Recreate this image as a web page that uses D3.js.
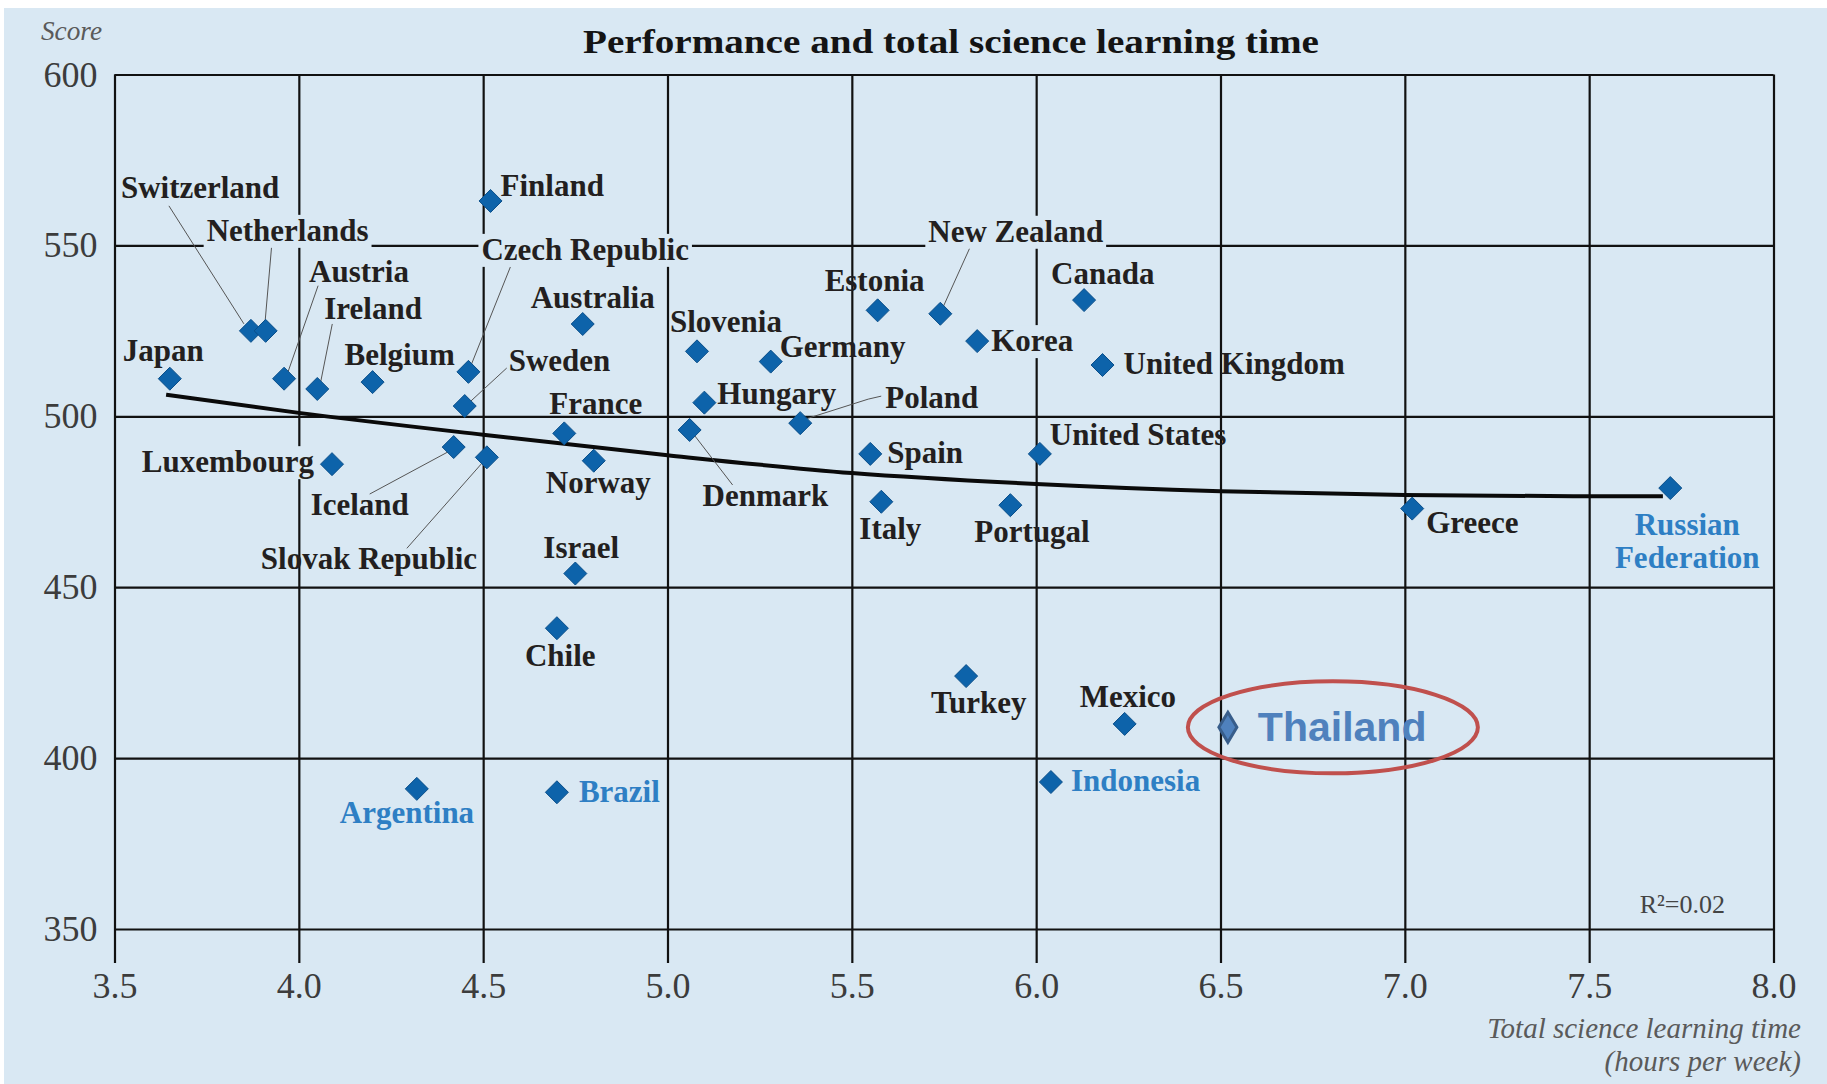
<!DOCTYPE html>
<html>
<head>
<meta charset="utf-8">
<script src="https://cdn.jsdelivr.net/npm/d3@7"></script>
<style>
  html, body { margin: 0; background: #fff; }
  svg { display: block; font-family: "Liberation Serif", serif; }
</style>
</head>
<body>
<svg id="chart" width="1827" height="1084"></svg>
<script>
// values
const countries = ["Japan", "Switzerland", "Netherlands", "Austria", "Ireland", "Belgium", "Luxembourg",
  "Czech Republic", "Sweden", "Iceland", "Slovak Republic", "Finland", "Australia", "France", "Norway",
  "Israel", "Chile", "Argentina", "Brazil", "Slovenia", "Hungary", "Denmark", "Germany", "Poland",
  "Estonia", "New Zealand", "Korea", "Spain", "Italy", "Turkey", "Portugal", "United States",
  "Indonesia", "Canada", "United Kingdom", "Mexico", "Thailand", "Greece", "Russian Federation"];
const hours = [3.65, 3.87, 3.91, 3.96, 4.05, 4.20, 4.09,
  4.46, 4.45, 4.42, 4.51, 4.52, 4.77, 4.72, 4.80,
  4.75, 4.70, 4.32, 4.70, 5.08, 5.10, 5.06, 5.28, 5.36,
  5.57, 5.74, 5.84, 5.55, 5.58, 5.81, 5.93, 6.01,
  6.04, 6.13, 6.18, 6.24, 6.52, 7.02, 7.72];
const scores = [511, 525, 525, 511, 508, 510, 486,
  513, 503, 491, 488, 563, 527, 495, 487,
  454, 438, 391, 390, 519, 504, 496, 516, 498,
  531, 530, 522, 489, 475, 424, 474, 489,
  393, 534, 515, 410, 409, 473, 479];
const partners = ["Argentina", "Brazil", "Indonesia", "Russian Federation"];
const highlight = "Thailand";

const trendHours = [3.64, 4.0, 4.5, 5.0, 5.5, 6.0, 6.5, 7.0, 7.5, 7.7];
const trendScores = [506.3, 501.0, 494.6, 488.6, 483.4, 480.2, 478.1, 477.0, 476.6, 476.6];

const xTicks = [3.5, 4.0, 4.5, 5.0, 5.5, 6.0, 6.5, 7.0, 7.5, 8.0];
const yTicks = [350, 400, 450, 500, 550, 600];

const title = "Performance and total science learning time";
const yTitle = "Score";
const xTitle = ["Total science learning time", "(hours per week)"];
const r2Note = "R\u00b2=0.02";

// label layout: offset of the text from its point, in pixels
const labelPlacement = {
  "Japan": { dx: -47, dy: -18 },
  "Switzerland": { dx: -130, dy: -133, leader: [[-82, -125], [-7, -7]] },
  "Netherlands": { dx: -59, dy: -90, knock: true, leader: [[6, -85], [-1, -4]] },
  "Austria": { dx: 25, dy: -97, leader: [[34, -93], [4, -7]] },
  "Ireland": { dx: 7, dy: -70, leader: [[15, -65], [3, -5]] },
  "Belgium": { dx: -28, dy: -17 },
  "Luxembourg": { dx: -18, dy: 8, anchor: "end", knock: true },
  "Czech Republic": { dx: 13, dy: -112, knock: true, leader: [[42, -105], [2, -5]] },
  "Sweden": { dx: 44, dy: -35, leader: [[42, -38], [4, -3]] },
  "Iceland": { dx: -143, dy: 68, leader: [[-84, 47], [-6, 5]] },
  "Slovak Republic": { dx: -226, dy: 112, leader: [[-80, 91], [-5, 6]] },
  "Finland": { dx: 10, dy: -5 },
  "Australia": { dx: -52, dy: -16 },
  "France": { dx: -15, dy: -19 },
  "Norway": { dx: -48, dy: 32 },
  "Israel": { dx: -32, dy: -16 },
  "Chile": { dx: -32, dy: 38 },
  "Argentina": { dx: -77, dy: 34 },
  "Brazil": { dx: 22, dy: 10 },
  "Slovenia": { dx: -27, dy: -19 },
  "Hungary": { dx: 13, dy: 1 },
  "Denmark": { dx: 13, dy: 76, leader: [[43, 55], [3, 3]] },
  "Germany": { dx: 9, dy: -5 },
  "Poland": { dx: 85, dy: -15, leader: [[81, -27], [68, -24], [5, -4]] },
  "Estonia": { dx: -53, dy: -19 },
  "New Zealand": { dx: -12, dy: -72, knock: true, leader: [[30, -67], [2, -5]] },
  "Korea": { dx: 14, dy: 10, knock: true },
  "Spain": { dx: 17, dy: 9 },
  "Italy": { dx: -22, dy: 37 },
  "Turkey": { dx: -35, dy: 37 },
  "Portugal": { dx: -36, dy: 37 },
  "United States": { dx: 10, dy: -9 },
  "Indonesia": { dx: 20, dy: 9 },
  "Canada": { dx: -33, dy: -16 },
  "United Kingdom": { dx: 21, dy: 9 },
  "Mexico": { dx: -45, dy: -17 },
  "Thailand": { dx: 30, dy: 14 },
  "Greece": { dx: 14, dy: 24 },
  "Russian Federation": { dx: 17, dy: 47, anchor: "middle", lines: ["Russian", "Federation"] }
};

const bg = "#d9e8f3";
const svg = d3.select("#chart");

svg.append("rect")
    .attr("x", 4).attr("y", 8)
    .attr("width", 1823).attr("height", 1076)
    .attr("fill", bg);

const x = d3.scaleLinear().domain([3.5, 8]).range([114.5, 1773.5]);
const y = d3.scaleLinear().domain([350, 600]).range([929, 74.5]);
const tickDrop = 34;

// vertical grid + x tick labels
const xAxis = d3.axisBottom(x)
    .tickValues(xTicks)
    .tickFormat(d3.format(".1f"))
    .tickSizeInner(-(y(350) + tickDrop - y(600)))
    .tickSizeOuter(0)
    .tickPadding(9);

const gx = svg.append("g")
    .attr("transform", `translate(0,${y(350) + tickDrop})`)
    .call(xAxis);
gx.select(".domain").remove();
gx.selectAll("line").attr("stroke", "#111").attr("stroke-width", 2.2);
gx.selectAll("text")
    .attr("font-family", "Liberation Serif, serif")
    .attr("font-size", 36)
    .attr("fill", "#3c3c3c");

// horizontal grid + y tick labels
const yAxis = d3.axisLeft(y)
    .tickValues(yTicks)
    .tickSizeInner(-(x(8) - x(3.5)))
    .tickSizeOuter(0)
    .tickPadding(17);

const gy = svg.append("g")
    .attr("transform", `translate(${x(3.5)},0)`)
    .call(yAxis);
gy.select(".domain").remove();
gy.selectAll("line").attr("stroke", "#111").attr("stroke-width", 2.2);
gy.selectAll("text")
    .attr("font-family", "Liberation Serif, serif")
    .attr("font-size", 36)
    .attr("fill", "#3c3c3c");

// titles
svg.append("text")
    .attr("x", 951).attr("y", 53)
    .attr("text-anchor", "middle")
    .attr("font-size", 34)
    .attr("font-weight", "bold")
    .attr("fill", "#141414")
    .attr("textLength", 736)
    .attr("lengthAdjust", "spacingAndGlyphs")
    .text(title);

svg.append("text")
    .attr("x", 41).attr("y", 40)
    .attr("font-size", 28)
    .attr("font-style", "italic")
    .attr("fill", "#5a5a5a")
    .attr("textLength", 61)
    .attr("lengthAdjust", "spacingAndGlyphs")
    .text(yTitle);

svg.append("text")
    .attr("text-anchor", "end")
    .attr("font-size", 29)
    .attr("font-style", "italic")
    .attr("fill", "#5a5a5a")
    .selectAll("tspan")
    .data(xTitle)
    .join("tspan")
    .attr("x", 1801)
    .attr("y", (d, i) => 1038 + i * 33)
    .text(d => d);

svg.append("text")
    .attr("x", 1725).attr("y", 913)
    .attr("text-anchor", "end")
    .attr("font-size", 26)
    .attr("fill", "#444")
    .text(r2Note);

// trend line
svg.append("path")
    .datum(trendHours.map((h, i) => [h, trendScores[i]]))
    .attr("fill", "none")
    .attr("stroke", "#0a0a0a")
    .attr("stroke-width", 4)
    .attr("d", d3.line().x(d => x(d[0])).y(d => y(d[1])).curve(d3.curveMonotoneX));

const points = countries.map((c, i) => ({ name: c, px: x(hours[i]), py: y(scores[i]), p: labelPlacement[c] }));

// leader lines
svg.append("g")
    .selectAll("path")
    .data(points.filter(d => d.p.leader))
    .join("path")
    .attr("fill", "none")
    .attr("stroke", "#555")
    .attr("stroke-width", 1)
    .attr("d", d => d3.line()(d.p.leader.map(o => [d.px + o[0], d.py + o[1]])));

// labels
const labels = svg.append("g");
points.forEach(d => {
  const isHi = d.name === highlight;
  const isPartner = partners.includes(d.name);
  const t = labels.append("text")
      .attr("x", d.px + d.p.dx)
      .attr("y", d.py + d.p.dy)
      .attr("text-anchor", d.p.anchor || "start")
      .attr("font-weight", "bold")
      .attr("font-size", isHi ? 41 : 31)
      .attr("fill", isHi ? "#4f81bd" : isPartner ? "#2e7fc4" : "#231f20");
  if (isHi) t.attr("font-family", "Liberation Sans, Arial, sans-serif");
  if (d.p.lines) {
    t.selectAll("tspan").data(d.p.lines).join("tspan")
        .attr("x", d.px + d.p.dx)
        .attr("dy", (l, i) => i ? 33 : 0)
        .text(l => l);
  } else {
    t.text(d.name);
  }
  if (d.p.knock) {
    const b = t.node().getBBox();
    labels.insert("rect", () => t.node())
        .attr("x", b.x - 3).attr("y", b.y + 2)
        .attr("width", b.width + 6).attr("height", b.height - 2)
        .attr("fill", bg);
  }
});

// markers
const diamond = (w, h) => `M0,${-h}L${w},0L0,${h}L${-w},0Z`;
svg.append("g")
    .selectAll("path")
    .data(points)
    .join("path")
    .attr("transform", d => `translate(${d.px},${d.py})`)
    .attr("d", d => d.name === highlight ? diamond(9, 15) : diamond(11.5, 11.5))
    .attr("fill", d => d.name === highlight ? "#4f81bd" : "#0d63aa")
    .attr("stroke", d => d.name === highlight ? "#385d8a" : "#0b4f8a")
    .attr("stroke-width", d => d.name === highlight ? 3 : 1);

// highlight ring
const hi = points.find(d => d.name === highlight);
svg.append("ellipse")
    .attr("cx", hi.px + 105).attr("cy", hi.py)
    .attr("rx", 145).attr("ry", 46)
    .attr("fill", "none")
    .attr("stroke", "#c0504d")
    .attr("stroke-width", 4);
</script>
</body>
</html>
